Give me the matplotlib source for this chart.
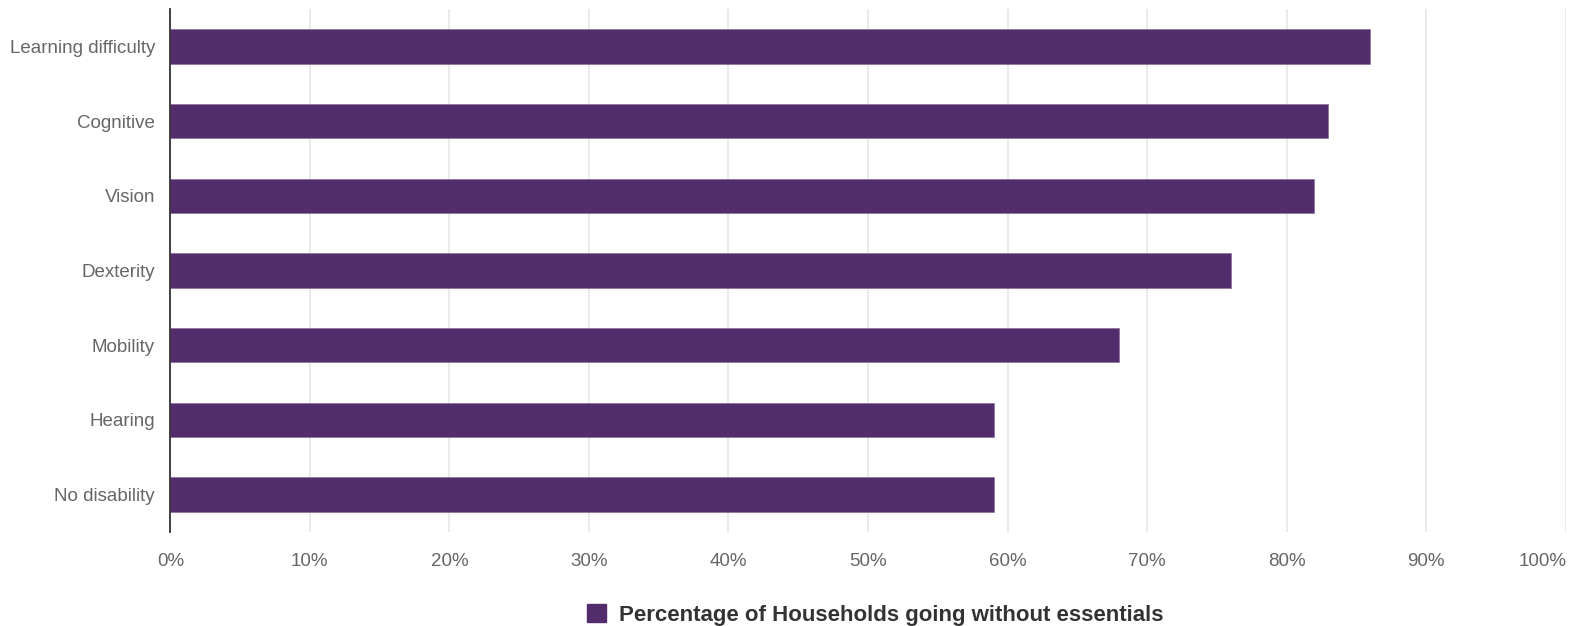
import matplotlib
matplotlib.use("Agg")
import matplotlib.pyplot as plt
import matplotlib.transforms as mtransforms
from matplotlib.patches import Patch
from matplotlib.ticker import FuncFormatter

categories = ["Learning difficulty", "Cognitive", "Vision", "Dexterity",
              "Mobility", "Hearing", "No disability"]
values = [86, 83, 82, 76, 68, 59, 59]
series_name = "Percentage of Households going without essentials"
x_ticks = [0, 10, 20, 30, 40, 50, 60, 70, 80, 90, 100]

BAR_COLOR = "#532C6B"
plt.rcParams["font.family"] = ["Liberation Sans", "DejaVu Sans"]

fig = plt.figure(figsize=(15.77, 6.26), dpi=100)
ax = fig.add_axes([0.108, 0.1506, 0.8848, 0.835])

ypos = list(range(len(categories)))
ax.barh(ypos, values, height=0.46, color=BAR_COLOR, edgecolor="#8a6f9c",
        linewidth=0.5, zorder=3)

ax.set_ylim(len(categories) - 0.5, -0.5)
ax.set_yticks(ypos)
ax.set_yticklabels(categories)
ax.set_xlim(0, 100)
ax.set_xticks(x_ticks)
ax.xaxis.set_major_formatter(FuncFormatter(lambda v, p: f"{v:.0f}%"))

ax.grid(axis="x", color="#e6e6e6", linewidth=1.2, zorder=0)
ax.grid(axis="y", visible=False)
for s in ["top", "right", "bottom"]:
    ax.spines[s].set_visible(False)
ax.spines["left"].set_color("#333333")
ax.spines["left"].set_linewidth(1.3)
ax.spines["left"].set_zorder(4)

ax.tick_params(axis="y", length=0, pad=11, labelsize=13.5, labelcolor="#666666")
ax.tick_params(axis="x", length=0, pad=15, labelsize=13.5, labelcolor="#666666")

# last x label kept inside the figure, like the original
last = ax.get_xticklabels()[-1]
last.set_horizontalalignment("right")
last.set_transform(last.get_transform() +
                   mtransforms.ScaledTranslation(0.01, 0, fig.dpi_scale_trans))

handle = Patch(facecolor=BAR_COLOR, edgecolor=BAR_COLOR)
fig.legend([handle], [series_name], loc="center",
           bbox_to_anchor=(0.555, 0.018), frameon=False,
           prop={"weight": "bold", "size": 16},
           labelcolor="#333333", handlelength=0.85, handleheight=0.85,
           handletextpad=0.55)

fig.savefig("out.png", dpi=100)
